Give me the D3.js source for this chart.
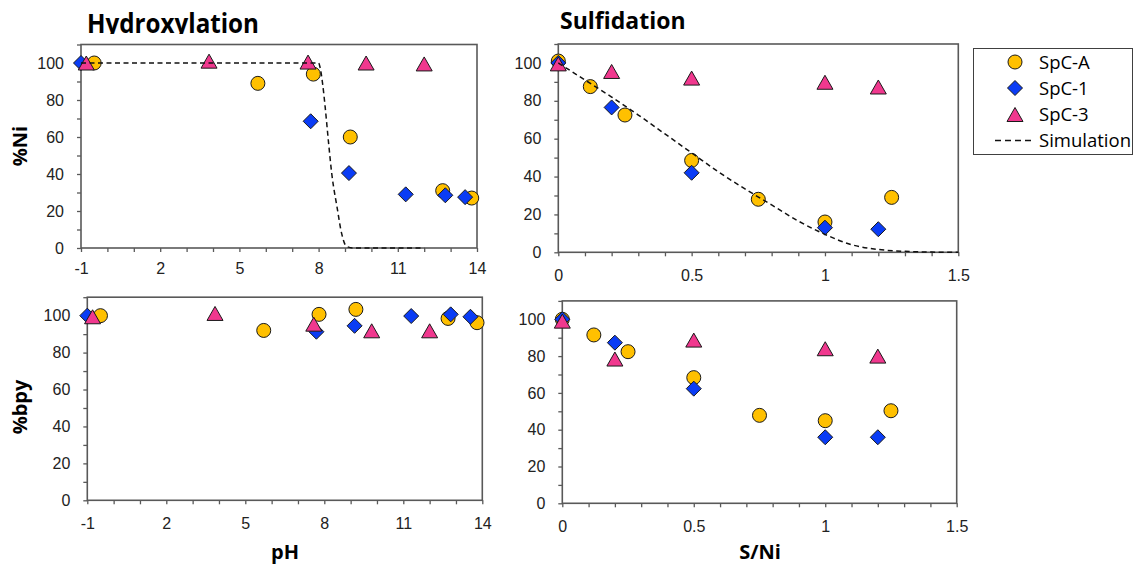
<!DOCTYPE html>
<html>
<head>
<meta charset="utf-8">
<title>Hydroxylation / Sulfidation</title>
<style>
body { margin:0; background:#fff; }
.axis path { display:none; }
.axis line { stroke:#595959; stroke-width:1.3; }
.axis text { font-family:"Liberation Sans", Arial, sans-serif; font-size:16px; fill:#222; }
.frame { fill:none; stroke:#595959; stroke-width:1.6; }
.title { font-family:"Open Sans", sans-serif; font-weight:bold; fill:#000; }
.label { font-family:"Open Sans", sans-serif; font-weight:bold; font-size:20px; fill:#000; }
.legend text { font-family:"Open Sans", sans-serif; font-size:18.5px; fill:#000; }
.sim { fill:none; stroke:#111; stroke-width:1.5; stroke-dasharray:5,3.5; }
</style>
</head>
<body>
<script src="https://cdn.jsdelivr.net/npm/d3@7"></script>
<script>
// pH series (hydroxylation)
var phA = [-0.5, 5.7, 7.8, 9.2, 12.7, 13.8];
var phA_ni = [100, 89, 94, 60, 31, 27];
var phA_bpy = [100, 92, 100.7, 103.4, 98.5, 96.2];
var ph1 = [-1, 7.7, 9.15, 11.3, 12.8, 13.55];
var ph1_ni = [100, 68.5, 40.5, 29, 28.5, 27.5];
var ph1_bpy = [100, 91.3, 94.5, 99.8, 100.7, 99.4];
var ph3 = [-0.8, 3.85, 7.6, 9.8, 12.0];
var ph3_ni = [100, 101, 100.5, 100, 99.5];
var ph3_bpy = [99.4, 101.2, 95.4, 91.8, 91.8];
var simPH = [-1, 8.0, 8.05, 8.15, 8.25, 8.37, 8.5, 8.7, 8.87, 9.05, 9.3, 12];
var simPH_ni = [100, 100, 98, 89, 76, 58, 40, 22, 8, 1, 0, 0];

// S/Ni series (sulfidation)
var sA = [0, 0.12, 0.25, 0.5, 0.75, 1, 1.25];
var sA_ni = [101, 87.5, 72.5, 48.5, 28, 16, 29];
var sA_bpy = [100, 91.5, 82.4, 68.3, 47.8, 44.9, 50.3];
var s1 = [0, 0.2, 0.5, 1, 1.2];
var s1_ni = [100, 76.5, 42, 13, 12.2];
var s1_bpy = [100, 87.3, 62.3, 35.9, 35.9];
var s3 = [0, 0.2, 0.5, 1, 1.2];
var s3_ni = [99.5, 95.5, 92, 89.8, 87.3];
var s3_bpy = [99, 78.4, 88.7, 84, 80];
var simS = [0, 0.1, 0.2, 0.3, 0.4, 0.5, 0.6, 0.7, 0.8, 0.9, 1.0, 1.1, 1.2, 1.3, 1.4, 1.5];
var simS_ni = [100, 91, 82, 72.5, 62.5, 52.5, 42.5, 33.5, 25, 16.5, 9.5, 4, 1.5, 0.5, 0.1, 0];

var pHTicks = [-1,0,1,2,3,4,5,6,7,8,9,10,11,12,13,14];
var pHLabels = [-1, 2, 5, 8, 11, 14];
var sTicks = [0,0.1,0.2,0.3,0.4,0.5,0.6,0.7,0.8,0.9,1,1.1,1.2,1.3,1.4,1.5];
var sLabels = [0, 0.5, 1, 1.5];
var yTicks = [0,10,20,30,40,50,60,70,80,90,100,110];
var yLabels = [0, 20, 40, 60, 80, 100];

var seriesNames = ["SpC-A", "SpC-1", "SpC-3"];
var colors = ["#FFC000", "#0A3CF5", "#F0388E"];
var shapes = ["M7,0A7,7 0 1,1 -7,0A7,7 0 1,1 7,0Z",
              "M0,-7.5L7.5,0L0,7.5L-7.5,0Z",
              "M0,-7L8,7L-8,7Z"];

var width = 1135, height = 564;
var svg = d3.select("body").append("svg")
    .attr("width", width)
    .attr("height", height);

var panels = [
  { l:81, r:477, b:248, t:44.5, xd:[-1,14], xt:pHTicks, xl:pHLabels, tp:11,
    xs:[phA, ph1, ph3], ys:[phA_ni, ph1_ni, ph3_ni], sim:[simPH, simPH_ni] },
  { l:558.3, r:958.3, b:252.3, t:44, xd:[0,1.5], xt:sTicks, xl:sLabels, tp:13,
    xs:[sA, s1, s3], ys:[sA_ni, s1_ni, s3_ni], sim:[simS, simS_ni] },
  { l:87.3, r:482.3, b:500.3, t:297.2, xd:[-1,14], xt:pHTicks, xl:pHLabels, tp:13,
    xs:[phA, ph1, ph3], ys:[phA_bpy, ph1_bpy, ph3_bpy] },
  { l:562.3, r:956.7, b:503.3, t:300.9, xd:[0,1.5], xt:sTicks, xl:sLabels, tp:13,
    xs:[sA, s1, s3], ys:[sA_bpy, s1_bpy, s3_bpy] }
];

panels.forEach(function(p){
  var x = d3.scaleLinear().domain(p.xd).range([p.l, p.r]);
  var y = d3.scaleLinear().domain([0, 110]).range([p.b, p.t]);
  var g = svg.append("g");

  g.append("g")
    .attr("class", "axis")
    .attr("transform", "translate(0," + p.b + ")")
    .call(d3.axisBottom(x).tickValues(p.xt).tickSize(4).tickPadding(p.tp)
      .tickFormat(function(d){ return p.xl.indexOf(d) >= 0 ? String(d) : ""; }));
  g.append("g")
    .attr("class", "axis")
    .attr("transform", "translate(" + p.l + ",0)")
    .call(d3.axisLeft(y).tickValues(yTicks).tickSize(4).tickPadding(13)
      .tickFormat(function(d){ return yLabels.indexOf(d) >= 0 ? String(d) : ""; }));

  g.append("rect")
    .attr("class", "frame")
    .attr("x", p.l).attr("y", p.t)
    .attr("width", p.r - p.l).attr("height", p.b - p.t);

  for (var k = 0; k < 3; k++) {
    var pts = p.xs[k].map(function(v, i){ return [v, p.ys[k][i]]; });
    g.selectAll(".m" + k)
      .data(pts)
      .enter()
      .append("path")
      .attr("d", shapes[k])
      .attr("transform", function(d){ return "translate(" + x(d[0]) + "," + y(d[1]) + ")"; })
      .attr("fill", colors[k])
      .attr("stroke", "#1a1a1a")
      .attr("stroke-width", 1);
  }

  if (p.sim) {
    var line = d3.line()
      .x(function(d){ return x(d[0]); })
      .y(function(d){ return y(d[1]); })
      .curve(d3.curveMonotoneX);
    g.append("path")
      .attr("class", "sim")
      .attr("d", line(p.sim[0].map(function(v, i){ return [v, p.sim[1][i]]; })));
  }
});

// titles
svg.append("clipPath").attr("id", "tclip")
  .append("rect").attr("x", 0).attr("y", 0).attr("width", 400).attr("height", 34);
svg.append("text")
  .attr("class", "title")
  .attr("clip-path", "url(#tclip)")
  .attr("x", 87).attr("y", 33)
  .attr("font-size", 26)
  .attr("textLength", 172)
  .attr("lengthAdjust", "spacingAndGlyphs")
  .text("Hydroxylation");
svg.append("text")
  .attr("class", "title")
  .attr("x", 560).attr("y", 28.5)
  .attr("font-size", 23)
  .text("Sulfidation");

// axis labels
svg.append("text").attr("class", "label")
  .attr("transform", "translate(27,146) rotate(-90)")
  .attr("text-anchor", "middle")
  .text("%Ni");
svg.append("text").attr("class", "label")
  .attr("transform", "translate(27,407) rotate(-90)")
  .attr("text-anchor", "middle")
  .text("%bpy");
svg.append("text").attr("class", "label")
  .attr("x", 285).attr("y", 559)
  .attr("text-anchor", "middle")
  .text("pH");
svg.append("text").attr("class", "label")
  .attr("x", 760).attr("y", 559)
  .attr("text-anchor", "middle")
  .text("S/Ni");

// legend
var legend = svg.append("g").attr("class", "legend");
legend.append("rect")
  .attr("x", 973.5).attr("y", 48.5)
  .attr("width", 159).attr("height", 106)
  .attr("fill", "#fff")
  .attr("stroke", "#404040")
  .attr("stroke-width", 1);
var legY = [62, 88, 114.5, 140.5];
seriesNames.forEach(function(n, k){
  legend.append("path")
    .attr("d", shapes[k])
    .attr("transform", "translate(1015," + legY[k] + ")")
    .attr("fill", colors[k])
    .attr("stroke", "#1a1a1a")
    .attr("stroke-width", 1);
  legend.append("text")
    .attr("x", 1039).attr("y", legY[k])
    .attr("dy", "0.36em")
    .text(n);
});
legend.append("line")
  .attr("x1", 995).attr("x2", 1033)
  .attr("y1", legY[3]).attr("y2", legY[3])
  .attr("stroke", "#111")
  .attr("stroke-width", 1.5)
  .attr("stroke-dasharray", "6,4");
legend.append("text")
  .attr("x", 1039).attr("y", legY[3])
  .attr("dy", "0.36em")
  .text("Simulation");
</script>
</body>
</html>
